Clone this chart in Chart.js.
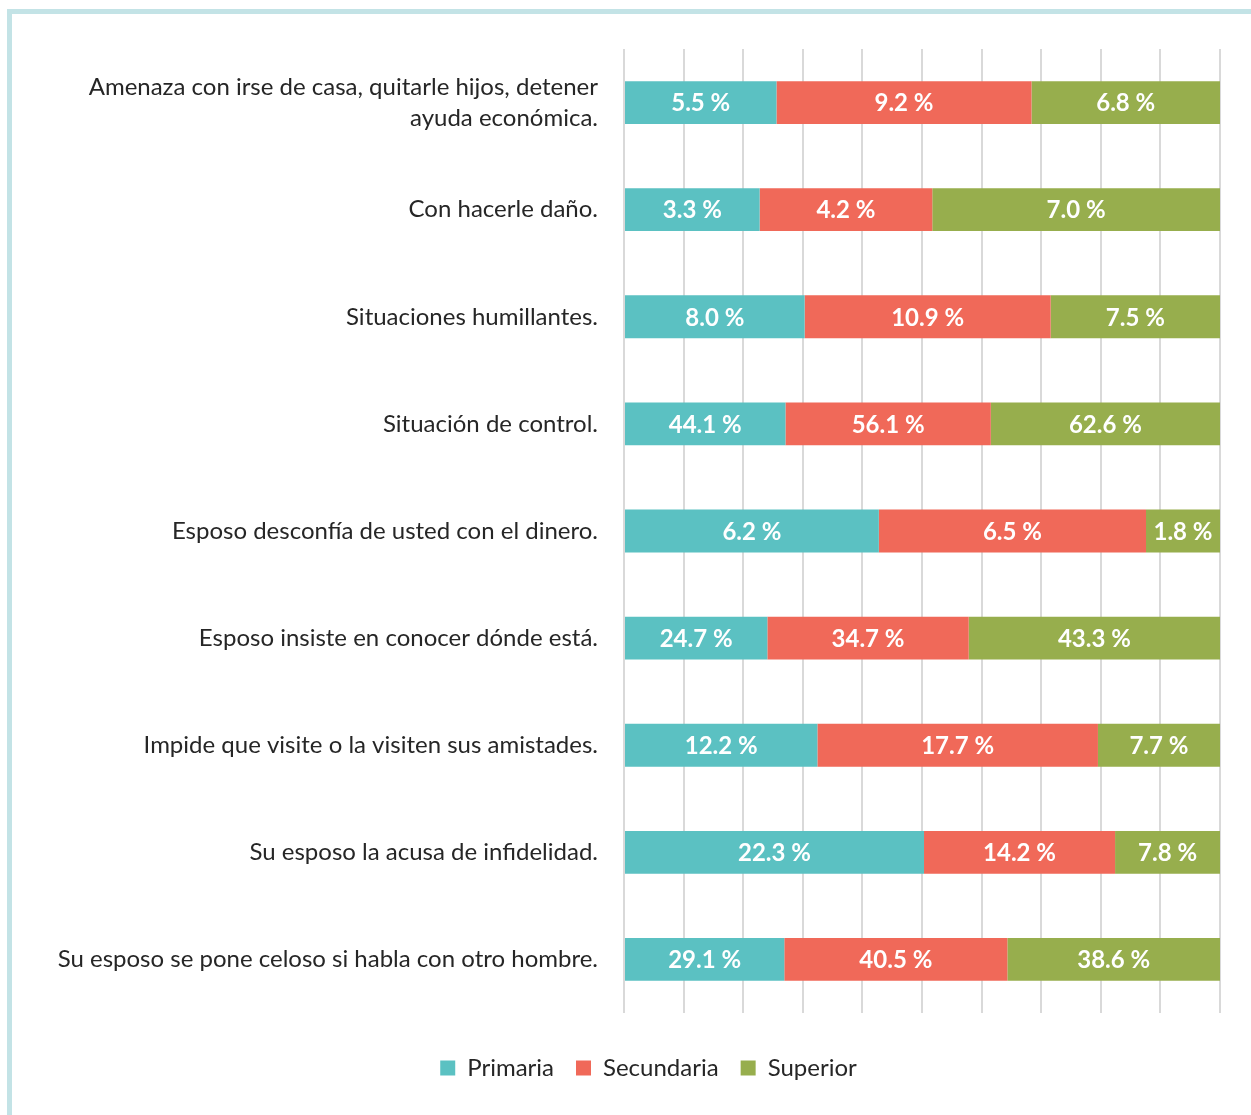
<!DOCTYPE html>
<html>
<head>
<meta charset="utf-8">
<script src="https://cdn.jsdelivr.net/npm/chart.js@4.4.1/dist/chart.umd.min.js"></script>
<style>
  html, body { margin: 0; padding: 0; background: #ffffff; }
  #frame { position: absolute; left: 7px; top: 9px; width: 1250px; height: 1110px;
           border-left: 5px solid #c3e3e6; border-top: 5px solid #c3e3e6; box-sizing: border-box; }
  #wrap { position: absolute; left: 0; top: 0; width: 1251px; height: 1115px; }
</style>
</head>
<body>
<div id="frame"></div>
<div id="wrap"><canvas id="c" width="1251" height="1115"></canvas></div>
<script>
const categories = [
  ["Amenaza con irse de casa, quitarle hijos, detener", "ayuda económica."],
  "Con hacerle daño.",
  "Situaciones humillantes.",
  "Situación de control.",
  "Esposo desconfía de usted con el dinero.",
  "Esposo insiste en conocer dónde está.",
  "Impide que visite o la visiten sus amistades.",
  "Su esposo la acusa de infidelidad.",
  "Su esposo se pone celoso si habla con otro hombre."
];
const seriesNames = ["Primaria", "Secundaria", "Superior"];
const primaria   = [5.5, 3.3, 8.0, 44.1, 6.2, 24.7, 12.2, 22.3, 29.1];
const secundaria = [9.2, 4.2, 10.9, 56.1, 6.5, 34.7, 17.7, 14.2, 40.5];
const superior   = [6.8, 7.0, 7.5, 62.6, 1.8, 43.3, 7.7, 7.8, 38.6];
const colors = ["#5bc1c2", "#f06959", "#97ae4d"];

const raw = [primaria, secundaria, superior];
const totals = primaria.map((v, i) => primaria[i] + secundaria[i] + superior[i]);
const shares = raw.map(arr => arr.map((v, i) => v / totals[i] * 100));

const FONT = "Lato, 'Noto Sans', sans-serif";

const valueLabels = {
  id: 'valueLabels',
  afterDatasetsDraw(chart) {
    const ctx = chart.ctx;
    ctx.save();
    ctx.font = "bold 24px " + FONT;
    ctx.fillStyle = "#ffffff";
    ctx.textAlign = "center";
    ctx.textBaseline = "middle";
    chart.data.datasets.forEach((ds, di) => {
      const meta = chart.getDatasetMeta(di);
      meta.data.forEach((el, i) => {
        const cx = (el.x + el.base) / 2;
        ctx.fillText(raw[di][i].toFixed(1) + " %", cx, el.y + 1);
      });
    });
    ctx.restore();
  }
};

const legendShift = {
  id: 'legendShift',
  afterLayout(chart) {
    if (chart.legend) { chart.legend.left += 77; chart.legend.top -= 1; chart.legend.bottom -= 1; }
  }
};

new Chart(document.getElementById('c'), {
  type: 'bar',
  data: {
    labels: categories,
    datasets: seriesNames.map((name, i) => ({
      label: name,
      data: shares[i],
      backgroundColor: colors[i],
      borderWidth: 0,
      barPercentage: 0.4,
      categoryPercentage: 1.0
    }))
  },
  options: {
    indexAxis: 'y',
    responsive: false,
    animation: false,
    devicePixelRatio: 1,
    layout: { padding: { left: 0, right: 31, top: 49, bottom: 24 } },
    scales: {
      x: {
        stacked: true, min: 0, max: 100,
        ticks: { display: false, stepSize: 10 },
        grid: { color: "#d9d9d9", lineWidth: 2, drawTicks: false },
        border: { display: false },
        afterFit(scale) { scale.height = 22; }
      },
      y: {
        stacked: true,
        ticks: { color: "#262626", padding: 26, font: { family: FONT, size: 24, lineHeight: 1.3 } },
        grid: { display: false, drawTicks: false },
        border: { display: false },
        afterFit(scale) { scale.width = 624; }
      }
    },
    plugins: {
      legend: {
        position: 'bottom',
        labels: { color: "#262626", boxWidth: 15, boxHeight: 15, padding: 22,
                  font: { family: FONT, size: 24 } }
      },
      tooltip: { enabled: false }
    }
  },
  plugins: [valueLabels, legendShift]
});
</script>
</body>
</html>
